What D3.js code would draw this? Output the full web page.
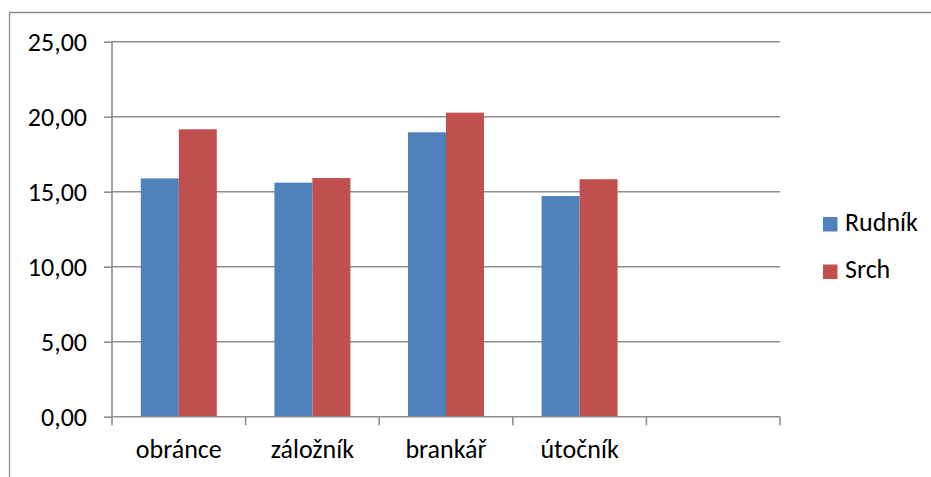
<!DOCTYPE html>
<html><head><meta charset="utf-8">
<script src="https://cdn.jsdelivr.net/npm/d3@7"></script>
<style>
html,body{margin:0;padding:0;background:#fff;}
svg text{font-family:Carlito,Calibri,"Open Sans",sans-serif;fill:#000;}
</style></head>
<body><svg id="c" width="931" height="477"></svg>
<script>
const categories = ["obránce","záložník","brankář","útočník"];
const slots = ["obránce","záložník","brankář","útočník",""];
const seriesNames = ["Rudník","Srch"];
const rudnik = [15.89,15.60,18.96,14.71];
const srch = [19.16,15.91,20.27,15.83];
const yTicks = [0,5,10,15,20,25];
const colors = ["#4F81BD","#C0504D"];

(function(){
const svg = d3.select("#c");
const W=931,H=477;
const pL=112,pR=780,pT=41.7,pB=416.7;
const FS=26;
// outer border
svg.append("path").attr("d",`M9.5,${H} V12.5 H${W}`).attr("fill","none").attr("stroke","#8c8c8c").attr("stroke-width",1.3);

const x = d3.scaleBand().domain(slots).range([pL,pR]).padding(0);
const x1 = d3.scaleBand().domain(seriesNames).range([x.bandwidth()*0.2156, x.bandwidth()*0.7844]).padding(0);
const y = d3.scaleLinear().domain([0,25]).range([pB,pT]);

// gridlines
svg.append("g").selectAll("line").data(yTicks.filter(d=>d>0)).join("line")
  .attr("x1",pL).attr("x2",pR).attr("y1",d=>y(d)).attr("y2",d=>y(d))
  .attr("stroke","#8e8e8e").attr("stroke-width",1.6);

// bars
const data = categories.map((c,i)=>({c, vals:[rudnik[i],srch[i]]}));
const g = svg.append("g");
data.forEach(d=>{
  d.vals.forEach((v,j)=>{
    g.append("rect").attr("x",x(d.c)+x1(seriesNames[j])).attr("width",x1.bandwidth())
      .attr("y",y(v)).attr("height",y(0)-y(v)).attr("fill",colors[j]);
  });
});

// y axis
const yAxis = d3.axisLeft(y).tickValues(yTicks).tickSize(8).tickPadding(17)
  .tickFormat(d=>d3.format(".2f")(d).replace(".",","));
const ya = svg.append("g").attr("transform",`translate(${pL},0)`).call(yAxis);
ya.select(".domain").attr("stroke","#8e8e8e").attr("stroke-width",1.6).attr("d",`M0,${pT}V${pB}`);
ya.selectAll(".tick line").attr("stroke","#8e8e8e").attr("stroke-width",1.6);
ya.selectAll(".tick text").attr("font-size",FS).attr("dy","0.34em").attr("fill","#000").style("font-family",'Carlito,Calibri,"Open Sans",sans-serif');

// x axis
const xa = svg.append("g").attr("transform",`translate(0,${pB})`);
xa.append("line").attr("x1",pL).attr("x2",pR).attr("stroke","#8e8e8e").attr("stroke-width",1.6);
const bounds = slots.map(s=>x(s)).concat([pR]);
xa.selectAll("line.t").data(bounds).join("line").attr("class","t")
  .attr("x1",d=>d).attr("x2",d=>d).attr("y1",0).attr("y2",8.5).attr("stroke","#8e8e8e").attr("stroke-width",1.6);
xa.selectAll("text").data(slots).join("text")
  .attr("x",d=>x(d)+x.bandwidth()/2).attr("y",41.5).attr("text-anchor","middle").attr("font-size",FS).text(d=>d);

// legend
const lg = svg.append("g");
seriesNames.forEach((s,i)=>{
  const cy = 224 + i*47.5;
  lg.append("rect").attr("x",823).attr("y",cy-7).attr("width",14.5).attr("height",14.5).attr("fill",colors[i]);
  lg.append("text").attr("x",845).attr("y",cy+6.5).attr("font-size",FS).text(s);
});
})();
</script></body></html>
